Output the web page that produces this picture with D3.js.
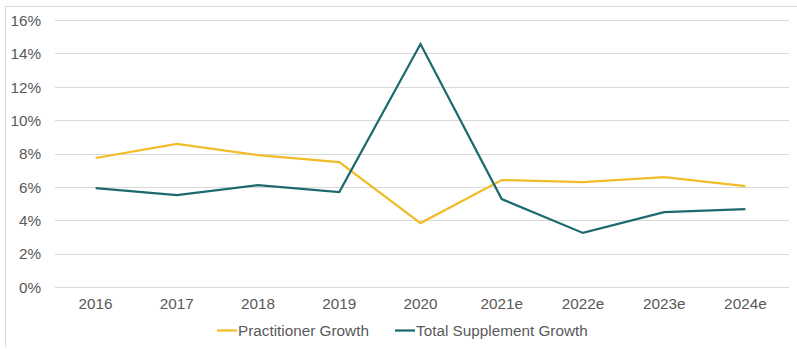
<!DOCTYPE html>
<html lang="en">
<head>
<meta charset="utf-8">
<title>Growth chart</title>
<script src="https://d3js.org/d3.v7.min.js"></script>
<style>
  body { margin: 0; background: #fff; }
  .tick text { font-family: "Liberation Sans", Arial, sans-serif; font-size: 15.3px; fill: #595959; }
  .legend { font-family: "Liberation Sans", Arial, sans-serif; font-size: 15.3px; fill: #595959; }
</style>
</head>
<body>
<div id="vis"></div>
<script>
const years = ["2016", "2017", "2018", "2019", "2020", "2021e", "2022e", "2023e", "2024e"];
const practitioner = [7.73, 8.57, 7.9, 7.49, 3.83, 6.41, 6.29, 6.59, 6.05];
const totalSupplement = [5.93, 5.51, 6.11, 5.69, 14.56, 5.27, 3.24, 4.49, 4.67];
const yTicks = [0, 2, 4, 6, 8, 10, 12, 14, 16];

const width = 797, height = 350;
const plotLeft = 55, plotRight = 786, plotTop = 20, plotBottom = 287;

const svg = d3.select("#vis").append("svg")
  .attr("width", width)
  .attr("height", height);

// outer border (top + left only visible)
svg.append("path")
  .attr("d", "M5.5,347 L5.5,6.5 L797,6.5")
  .attr("fill", "none")
  .attr("stroke", "#d9d9d9");

const x = d3.scaleBand().domain(years).range([plotLeft, plotRight]);
const y = d3.scaleLinear().domain([0, 16]).range([plotBottom, plotTop]);

// gridlines
svg.append("g")
  .selectAll("line")
  .data(yTicks)
  .join("line")
  .attr("x1", plotLeft)
  .attr("x2", plotRight + 3)
  .attr("y1", d => Math.round(y(d)) + 0.5)
  .attr("y2", d => Math.round(y(d)) + 0.5)
  .attr("stroke", "#d9d9d9")
  .attr("stroke-width", 1);

// y axis
const yAxis = svg.append("g")
  .attr("transform", "translate(" + (plotLeft - 14) + ",0)")
  .call(d3.axisLeft(y).tickValues(yTicks).tickFormat(d => d + "%").tickSize(0).tickPadding(0));
yAxis.select(".domain").remove();
yAxis.selectAll(".tick text").attr("dy", "0.35em");

// x axis
const xAxis = svg.append("g")
  .attr("transform", "translate(0," + plotBottom + ")")
  .call(d3.axisBottom(x).tickSize(0).tickPadding(11));
xAxis.select(".domain").remove();

const line = d3.line()
  .x((d, i) => x(years[i]) + x.bandwidth() / 2)
  .y(d => y(d));

svg.append("path")
  .datum(practitioner)
  .attr("d", line)
  .attr("fill", "none")
  .attr("stroke", "#f2bc28")
  .attr("stroke-width", 2.25);

svg.append("path")
  .datum(totalSupplement)
  .attr("d", line)
  .attr("fill", "none")
  .attr("stroke", "#1d6a6e")
  .attr("stroke-width", 2.25);

// legend
const legendItems = [
  { name: "Practitioner Growth", color: "#f2bc28", x: 217 },
  { name: "Total Supplement Growth", color: "#1d6a6e", x: 395 }
];
const lg = svg.append("g").selectAll("g").data(legendItems).join("g")
  .attr("transform", d => "translate(" + d.x + ",331)");
lg.append("line")
  .attr("x1", 0).attr("x2", 20)
  .attr("y1", -0.5).attr("y2", -0.5)
  .attr("stroke", d => d.color)
  .attr("stroke-width", 2.25);
lg.append("text")
  .attr("class", "legend")
  .attr("x", 21)
  .attr("dy", "0.35em")
  .text(d => d.name);
</script>
</body>
</html>
